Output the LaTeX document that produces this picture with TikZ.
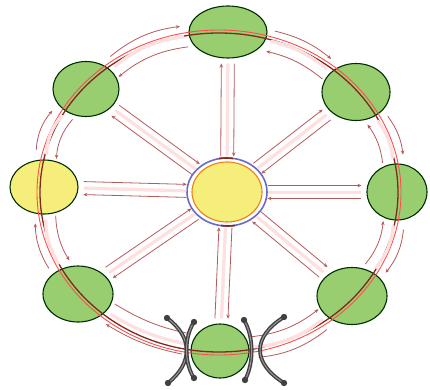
\documentclass[tikz,border=0pt]{standalone}
\usetikzlibrary{arrows.meta,positioning,shapes.geometric}
\definecolor{leafgreen}{RGB}{152,206,112}
\definecolor{paleyellow}{RGB}{246,238,122}
\definecolor{ringred}{RGB}{130,40,28}
\definecolor{spokered}{RGB}{180,90,90}
\definecolor{bluering}{RGB}{105,105,200}

\begin{document}
\begin{tikzpicture}[
		x=1pt,y=1pt,
		cell/.style={
			ellipse,
			draw=black!65!green!50!black,
			line width=1.1pt,
			fill=leafgreen,
			inner sep=0pt
			},
		yellowcell/.style={cell,fill=paleyellow},
		spoke/.style={
			draw=spokered,
			line width=0.8pt,
			shorten >=5pt,
			shorten <=5pt,
			preaction={draw=red!12,line width=3pt,shorten >=5pt,shorten <=5pt}
			},
		bone/.style={
			draw=black!75,
			line width=3.8pt,
			line cap=round,
			postaction={draw=black!40,line width=1pt}
			}
		]
		
		\useasboundingbox (0,0) rectangle (430,389);
		
		% centre
		\node[yellowcell,draw=orange!70!brown,minimum width=70,minimum height=60]
		(c) at (227,197) {};
		\draw[bluering,line width=1.6pt] (c.center) ellipse [x radius=40,y radius=34];
		\draw[ringred,line width=1.6pt] (c.center) ++(80:34) arc[start angle=80,end angle=100,x radius=40,y radius=34];
		\draw[ringred,line width=1.6pt] (c.center) ++(260:34) arc[start angle=260,end angle=280,x radius=40,y radius=34];
		
		% outer cells
		\node[cell,minimum width=78,minimum height=52] (t) at (228,357) {};
		\node[cell,minimum width=66,minimum height=55] (tl) at (86,300) {};
		\node[cell,minimum width=68,minimum height=57] (tr) at (356,297) {};
		\node[yellowcell,minimum width=68,minimum height=54] (l) at (44,202) {};
		\node[cell,minimum width=60,minimum height=56] (r) at (397,197) {};
		\node[cell,minimum width=70,minimum height=56] (bl) at (78,95) {};
		\node[cell,minimum width=70,minimum height=57] (br) at (352,93) {};
		\node[cell,minimum width=58,minimum height=54] (b) at (220,38) {};
		
		% big cycle
		\draw[red!70!white,line width=0.9pt] (219,196.5) ellipse [x radius=182,y radius=162.5];
		\draw[ringred,line width=1.3pt] (219,196.5) ellipse [x radius=179,y radius=159.5];
		
		% spokes
		\foreach \n/\a in {t/90,tl/144,tr/38,l/178,r/0,bl/214,br/320,b/268}{
			\draw[spoke,-{Stealth[length=4pt,width=3.5pt]},
				transform canvas={shift={({\a+90}:6.5pt)}}] (c) -- (\n);
			\draw[spoke,{Stealth[length=4pt,width=3.5pt]}-,
				transform canvas={shift={({\a-90}:6.5pt)}}] (c) -- (\n);
		}
		
		% arrows along the cycle
		\foreach \u/\v/\m/\k in {tl/t/112/16,t/tr/67/13,tr/r/22/15,r/br/-23/17,
			br/b/-68/16,b/bl/246/10,bl/l/201/15,l/tl/157/19}{
			\draw[spoke,-{Stealth[length=4pt,width=3.5pt]},
				transform canvas={shift={(\m:11pt)}}] (\u) to[bend left=\k] (\v);
			\draw[spoke,{Stealth[length=4pt,width=3.5pt]}-,
				transform canvas={shift={({\m+180}:11pt)}}] (\u) to[bend left=\k] (\v);
		}
		
		% brackets round the bottom cell
		\draw[bone] (167,71) .. controls (193,52) and (193,26) .. (168,6);
		\draw[bone] (194,67) .. controls (184,52) and (184,26) .. (194,11);
		\draw[bone] (244,69) .. controls (254,52) and (254,26) .. (245,9);
		\draw[bone] (284,72) .. controls (252,52) and (252,26) .. (284,6);
		\foreach \p in {(167,71),(168,6),(194,67),(194,11),(244,69),(245,9),(284,72),(284,6)}
			\fill[black!75] \p circle (3.2);
		
\end{tikzpicture}
\end{document}
